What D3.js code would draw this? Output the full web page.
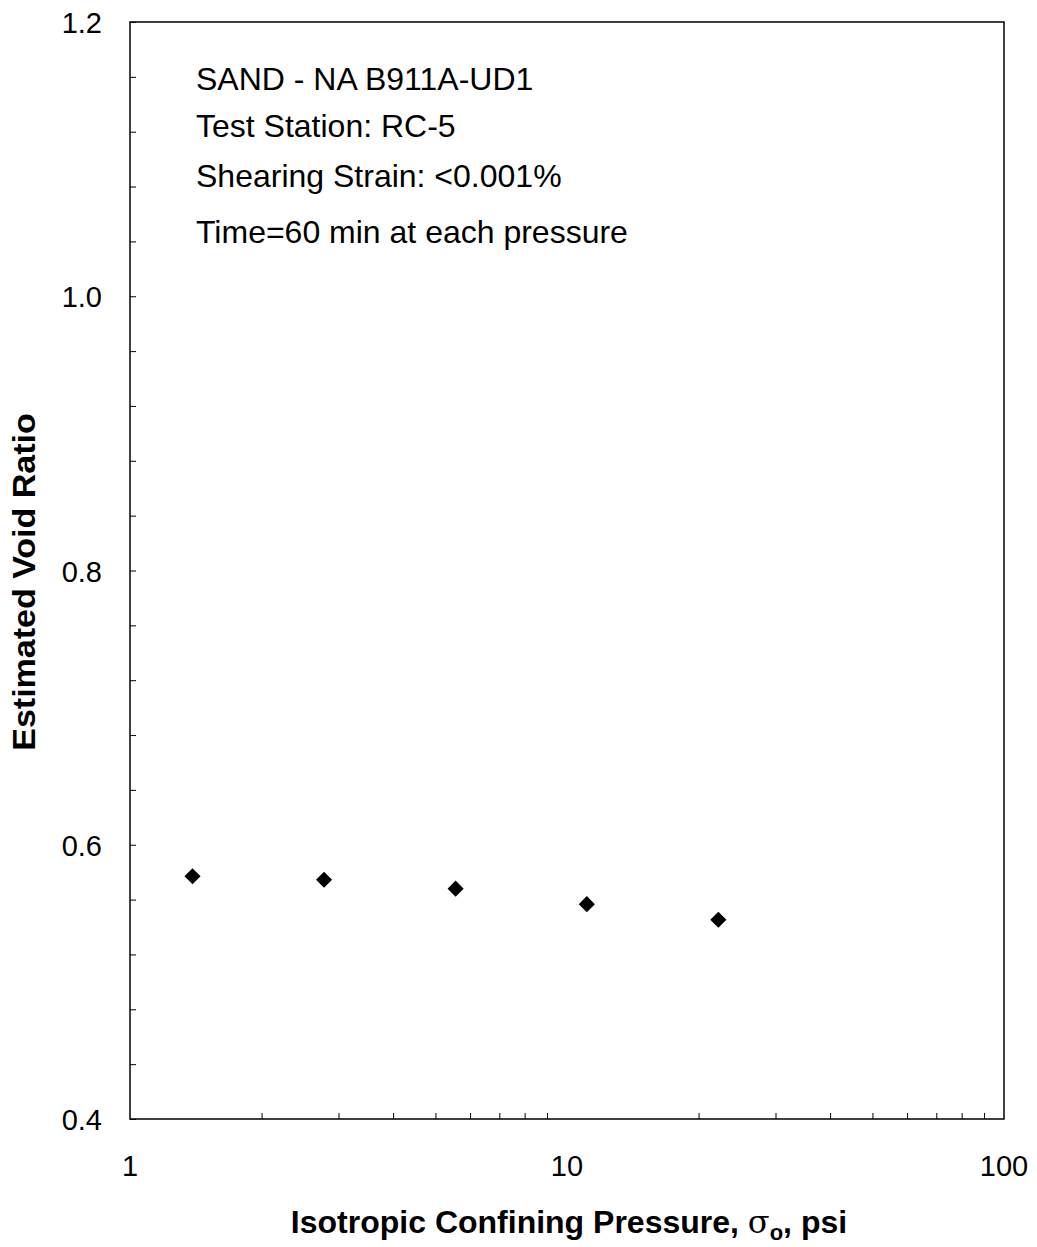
<!DOCTYPE html>
<html><head><meta charset="utf-8">
<script src="https://cdn.jsdelivr.net/npm/d3@7"></script>
<style>body{margin:0;background:#fff}text{font-family:"Liberation Sans",Arial,sans-serif}</style>
</head><body>
<svg id="c" width="1037" height="1247"></svg>
<script>
const pressure = [1.39, 2.78, 5.56, 11.1, 22.2];
const voidRatio = [0.577, 0.5745, 0.568, 0.5567, 0.5453];
const yTickLabels = [0.4, 0.6, 0.8, 1.0, 1.2];
const xTickLabels = [1, 10, 100];
const notes = ["SAND - NA B911A-UD1", "Test Station: RC-5", "Shearing Strain: <0.001%", "Time=60 min at each pressure"];

const svg = d3.select("#c");
const L = 130, R = 1004, T = 22, B = 1119;
const x = d3.scaleLog().domain([1, 100]).range([L, R]);
const y = d3.scaleLinear().domain([0.4, 1.2]).range([B, T]);

// frame
svg.append("rect").attr("x", L).attr("y", T).attr("width", R - L).attr("height", B - T)
  .attr("fill", "none").attr("stroke", "#111").attr("stroke-width", 1.6);

// y ticks (inside)
const yMinor = d3.range(0.4, 1.2001, 0.04);
const yAxis = d3.axisLeft(y).tickValues(yMinor).tickSize(-6).tickFormat("");
svg.append("g").attr("transform", `translate(${L},0)`).call(yAxis)
  .call(g => g.select(".domain").remove())
  .selectAll("line").attr("stroke", "#000");
svg.append("g").selectAll("text").data(yTickLabels).join("text")
  .attr("x", 102).attr("y", d => y(d) + 11).attr("text-anchor", "end")
  .attr("font-size", 29).text(d => d3.format(".1f")(d));

// x ticks (inside)
const xMinor = [];
[1, 10].forEach(dec => { for (let k = 2; k <= 9; k++) xMinor.push(dec * k); });
const xAxis = d3.axisBottom(x).tickValues(xMinor).tickSize(-6).tickFormat("");
svg.append("g").attr("transform", `translate(0,${B})`).call(xAxis)
  .call(g => g.select(".domain").remove())
  .selectAll("line").attr("stroke", "#000");
svg.append("g").selectAll("text").data(xTickLabels).join("text")
  .attr("x", d => x(d)).attr("y", 1176).attr("text-anchor", "middle")
  .attr("font-size", 29).text(d => d);

// points
const sym = d3.symbol().type(d3.symbolSquare).size(130);
svg.append("g").selectAll("path").data(pressure.map((p, i) => [p, voidRatio[i]])).join("path")
  .attr("d", sym)
  .attr("transform", d => `translate(${x(d[0])},${y(d[1])}) rotate(45)`)
  .attr("fill", "#000");

// notes
const noteY = [90, 137, 187, 243];
svg.append("g").selectAll("text").data(notes).join("text")
  .attr("x", 196).attr("y", (d, i) => noteY[i]).attr("font-size", 32).text(d => d);

// axis titles
const xt = svg.append("text").attr("x", 569).attr("y", 1233).attr("text-anchor", "middle")
  .attr("font-size", 32).attr("font-weight", "bold");
xt.append("tspan").text("Isotropic Confining Pressure, ");
xt.append("tspan").text("σ").attr("font-weight", "normal").attr("font-family", "'DejaVu Serif', serif");
xt.append("tspan").text("o").attr("font-size", 22).attr("dy", 7);
xt.append("tspan").text(", psi").attr("dy", -7);

svg.append("text").attr("transform", "translate(35,582) rotate(-90) scale(1.08,1)")
  .attr("text-anchor", "middle").attr("font-size", 31.5).attr("font-weight", "bold")
  .text("Estimated Void Ratio");
</script>
</body></html>
